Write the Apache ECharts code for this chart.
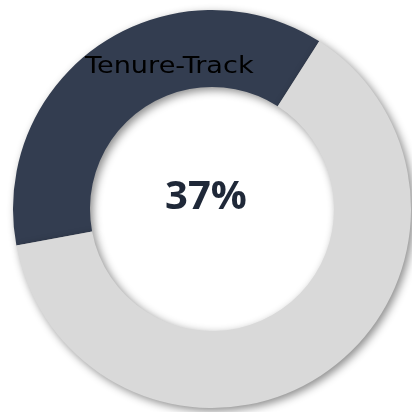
<!DOCTYPE html>
<html><head><meta charset="utf-8">
<script src="https://cdn.jsdelivr.net/npm/echarts@6/dist/echarts.min.js"></script>
<style>html,body{margin:0;padding:0;background:#fff}#c{width:412px;height:412px}</style>
</head><body><div id="c"></div>
<script>
const categories = ['Tenure-Track', 'Other'];
const values = [37, 63];
const centerLabel = '37%';
const colors = ['#333d50', '#d9d9d9'];

const chart = echarts.init(document.getElementById('c'), null, {renderer: 'canvas'});
chart.setOption({
  animation: false,
  graphic: [
    {type: 'text', x: 85, y: 79, scaleX: 1.18, z: 100,
     style: {text: categories[0], font: '23px "DejaVu Sans"', fill: '#000', verticalAlign: 'bottom',
             shadowBlur: 3, shadowColor: 'rgba(0,0,0,0.35)', shadowOffsetX: 1, shadowOffsetY: 1}},
    {type: 'text', x: 206, y: 198, z: 100,
     style: {text: centerLabel, font: 'bold 40px "Open Sans"', fill: '#1f2838', align: 'center', verticalAlign: 'middle'}}
  ],
  series: [{
    type: 'pie',
    center: [212, 209],
    radius: [122, 199],
    startAngle: 57.4,
    clockwise: false,
    label: {show: false},
    labelLine: {show: false},
    emphasis: {disabled: true},
    itemStyle: {shadowBlur: 8, shadowOffsetX: 3, shadowOffsetY: 3, shadowColor: 'rgba(0,0,0,0.45)'},
    data: categories.map((n, i) => ({name: n, value: values[i], itemStyle: {color: colors[i]}}))
  }]
});
</script></body></html>
